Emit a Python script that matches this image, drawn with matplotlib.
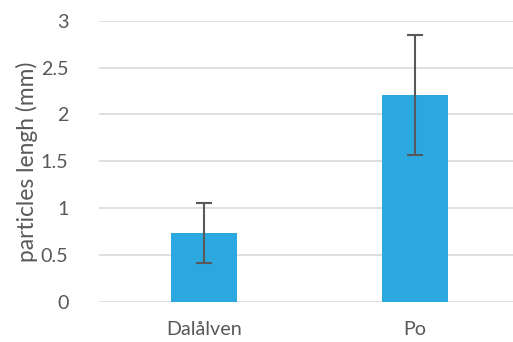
import matplotlib
matplotlib.use("Agg")
import matplotlib.pyplot as plt

# Mean particle length per river with error bars (mm)
rivers = ["Dalålven", "Po"]
mean_length = [0.73, 2.21]
err_length = [0.32, 0.64]
y_ticks = [0, 0.5, 1, 1.5, 2, 2.5, 3]
y_tick_labels = ["0", "0.5", "1", "1.5", "2", "2.5", "3"]

W, H = 513, 342
fig = plt.figure(figsize=(W / 100, H / 100), dpi=100)
left, right = 99 / W, 1.0
bottom, top = 1 - 301.7 / H, 1 - 20.7 / H
ax = fig.add_axes([left, bottom, right - left, top - bottom])

text_color = "#595959"
font = "Lato"

x = list(range(len(rivers)))
ax.bar(x, mean_length, width=0.313, color="#2CA8E0", zorder=2)
ax.errorbar(x, mean_length, yerr=err_length, fmt="none", ecolor="#595959",
            elinewidth=1.5, capsize=5.5, capthick=1.5, zorder=3)

ax.set_xlim(-0.5, -0.5 + (W - 99) / 210.5)
ax.set_ylim(0, 3)
ax.set_yticks(y_ticks)
ax.set_yticklabels(y_tick_labels)
ax.set_xticks(x)
ax.set_xticklabels(rivers)

ax.yaxis.grid(True, color="#D9D9D9", linewidth=1.2, zorder=0)
ax.set_axisbelow(True)
for s in ax.spines.values():
    s.set_visible(False)
ax.tick_params(axis="both", length=0, labelcolor=text_color, labelsize=14.2)
ax.tick_params(axis="y", pad=22)
ax.tick_params(axis="x", pad=14)
for lbl in ax.get_xticklabels() + ax.get_yticklabels():
    lbl.set_fontfamily(font)

fig.text(27 / W, 1 - 162 / H, "particles lengh (mm)", rotation=90,
         ha="center", va="center", color=text_color, fontsize=16.4,
         fontfamily=font)

fig.savefig("out.png", dpi=100)
